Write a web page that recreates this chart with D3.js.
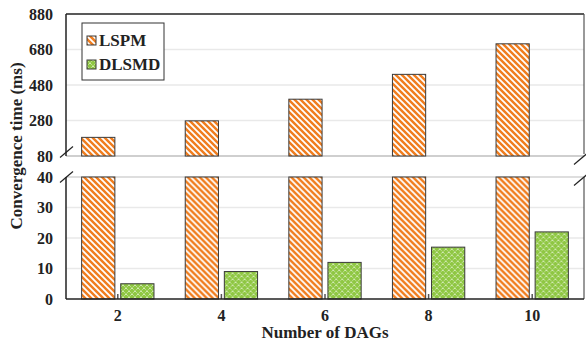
<!DOCTYPE html>
<html>
<head>
<meta charset="utf-8">
<script src="https://cdn.jsdelivr.net/npm/d3@7"></script>
<style>
  body { margin: 0; background: #fff; }
  text { font-family: "Liberation Serif", "Times New Roman", serif; font-weight: bold; fill: #222; }
</style>
</head>
<body>
<script>
// data
const categories = ["2", "4", "6", "8", "10"];
const series = ["LSPM", "DLSMD"];
const lspm = [185, 278, 400, 540, 712];
const dlsmd = [5, 9, 12, 17, 22];
const topTicks = [80, 280, 480, 680, 880];
const bottomTicks = [0, 10, 20, 30, 40];

const width = 586, height = 343;
const left = 66, right = 584;

const svg = d3.select("body").append("svg")
    .attr("width", width)
    .attr("height", height);

// patterns
const defs = svg.append("defs");
const pOr = defs.append("pattern").attr("id", "stripe")
    .attr("patternUnits", "userSpaceOnUse").attr("width", 6).attr("height", 6);
pOr.append("rect").attr("width", 6).attr("height", 6).attr("fill", "#f07d1e");
pOr.append("path").attr("d", "M-1,-1 L7,7 M-1,5 L1,7 M5,-1 L7,1")
    .attr("stroke", "#fff").attr("stroke-width", 1.8);

const pGr = defs.append("pattern").attr("id", "diamond")
    .attr("patternUnits", "userSpaceOnUse").attr("width", 6).attr("height", 6);
pGr.append("rect").attr("width", 6).attr("height", 6).attr("fill", "#8fc743");
pGr.append("path").attr("d", "M0,0 L6,6 M6,0 L0,6")
    .attr("stroke", "#e8f5d8").attr("stroke-width", 0.9).attr("stroke-dasharray", "1.2,0.9");

const fills = { LSPM: "url(#stripe)", DLSMD: "url(#diamond)" };

// scales
const x0 = d3.scaleBand().domain(categories).range([left, right]);
const x1 = d3.scaleBand().domain(series).range([0, x0.bandwidth()])
    .paddingInner(0.15).paddingOuter(0.4);
const yTop = d3.scaleLinear().domain([80, 880]).range([156, 14]);
const yBot = d3.scaleLinear().domain([0, 40]).range([299, 177]);

// grid
svg.append("g").selectAll("line").data(topTicks.slice(1, 4)).join("line")
    .attr("x1", left).attr("x2", right)
    .attr("y1", d => yTop(d)).attr("y2", d => yTop(d))
    .attr("stroke", "#e9e9e9").attr("stroke-width", 1.5);
svg.append("g").selectAll("line").data(bottomTicks.slice(1, 4)).join("line")
    .attr("x1", left).attr("x2", right)
    .attr("y1", d => yBot(d)).attr("y2", d => yBot(d))
    .attr("stroke", "#e9e9e9").attr("stroke-width", 1.5);

// panel edges at the break
svg.append("line").attr("x1", left).attr("x2", right)
    .attr("y1", yTop(80)).attr("y2", yTop(80))
    .attr("stroke", "#cfcfcf").attr("stroke-width", 1.8);
svg.append("line").attr("x1", left).attr("x2", right)
    .attr("y1", yBot(40)).attr("y2", yBot(40))
    .attr("stroke", "#dedede").attr("stroke-width", 2);

const rows = categories.map((c, i) => ({ cat: c, LSPM: lspm[i], DLSMD: dlsmd[i] }));

// top panel bars (LSPM only reaches above 80)
svg.append("g").selectAll("rect").data(rows).join("rect")
    .attr("x", d => x0(d.cat) + x1("LSPM"))
    .attr("width", x1.bandwidth())
    .attr("y", d => yTop(d.LSPM))
    .attr("height", d => yTop(80) - yTop(d.LSPM))
    .attr("fill", fills.LSPM)
    .attr("stroke", "#3a3a3a").attr("stroke-width", 1);

// bottom panel bars
const g = svg.append("g").selectAll("g").data(rows).join("g")
    .attr("transform", d => `translate(${x0(d.cat)},0)`);
g.selectAll("rect").data(d => series.map(s => ({ s, v: Math.min(d[s], 40) }))).join("rect")
    .attr("x", d => x1(d.s))
    .attr("width", x1.bandwidth())
    .attr("y", d => yBot(d.v))
    .attr("height", d => yBot(0) - yBot(d.v))
    .attr("fill", d => fills[d.s])
    .attr("stroke", "#3a3a3a").attr("stroke-width", 1);

// small category ticks
svg.append("g").selectAll("line").data(categories).join("line")
    .attr("x1", d => x0(d) + x0.bandwidth() / 2).attr("x2", d => x0(d) + x0.bandwidth() / 2)
    .attr("y1", yBot(0)).attr("y2", yBot(0) - 5)
    .attr("stroke", "#555").attr("stroke-width", 1.5);

// frame
const frame = svg.append("g").attr("fill", "none");
frame.append("line").attr("x1", left).attr("x2", right).attr("y1", 14).attr("y2", 14)
    .attr("stroke", "#222").attr("stroke-width", 1.5);
frame.append("line").attr("x1", left).attr("x2", left).attr("y1", 14).attr("y2", yTop(80))
    .attr("stroke", "#222").attr("stroke-width", 1.5);
frame.append("line").attr("x1", left).attr("x2", left).attr("y1", yBot(40)).attr("y2", yBot(0))
    .attr("stroke", "#222").attr("stroke-width", 1.5);
frame.append("line").attr("x1", right).attr("x2", right).attr("y1", 14).attr("y2", yTop(80) - 2)
    .attr("stroke", "#555").attr("stroke-width", 1.2);
frame.append("line").attr("x1", right).attr("x2", right).attr("y1", yBot(40)).attr("y2", yBot(0))
    .attr("stroke", "#555").attr("stroke-width", 1.2);
frame.append("line").attr("x1", left).attr("x2", right).attr("y1", yBot(0)).attr("y2", yBot(0))
    .attr("stroke", "#222").attr("stroke-width", 1.5);

// break marks
const breaks = [[left, yTop(80) - 4], [left, yBot(40)], [right - 4, yTop(80) + 3], [right - 4, yBot(40) + 3]];
svg.append("g").selectAll("line").data(breaks).join("line")
    .attr("x1", d => d[0] - 6).attr("y1", d => d[1] + 5.5)
    .attr("x2", d => d[0] + 7).attr("y2", d => d[1] - 5.5)
    .attr("stroke", "#222").attr("stroke-width", 1.2);

// y axes
svg.append("g").attr("transform", `translate(${left},0)`)
    .call(d3.axisLeft(yTop).tickValues(topTicks).tickSize(0).tickPadding(13))
    .call(a => a.select(".domain").remove())
    .selectAll("text").style("font-size", "16px").style("font-family", null);
svg.append("g").attr("transform", `translate(${left},0)`)
    .call(d3.axisLeft(yBot).tickValues(bottomTicks).tickSize(0).tickPadding(13))
    .call(a => a.select(".domain").remove())
    .selectAll("text").style("font-size", "16px").style("font-family", null);

// x axis
svg.append("g").attr("transform", `translate(0,${yBot(0)})`)
    .call(d3.axisBottom(x0).tickSize(0).tickPadding(11))
    .call(a => a.select(".domain").remove())
    .selectAll("text").style("font-size", "16px").style("font-family", null);

// titles
svg.append("text").attr("x", (left + right) / 2).attr("y", 338)
    .attr("text-anchor", "middle").style("font-size", "17px").text("Number of DAGs");
svg.append("text").attr("transform", "translate(22,146) rotate(-90)")
    .attr("text-anchor", "middle").style("font-size", "17px").text("Convergence time (ms)");

// legend
const lg = svg.append("g").attr("transform", "translate(82,23)");
lg.append("rect").attr("width", 82).attr("height", 57)
    .attr("fill", "#fff").attr("stroke", "#333").attr("stroke-width", 1);
series.forEach((s, i) => {
  const row = lg.append("g").attr("transform", `translate(5,${13 + i * 24})`);
  row.append("rect").attr("width", 9).attr("height", 9)
      .attr("fill", fills[s]).attr("stroke", "#3a3a3a").attr("stroke-width", 1);
  row.append("text").attr("x", 12).attr("y", 9.5).style("font-size", "17px").text(s);
});
</script>
</body>
</html>
